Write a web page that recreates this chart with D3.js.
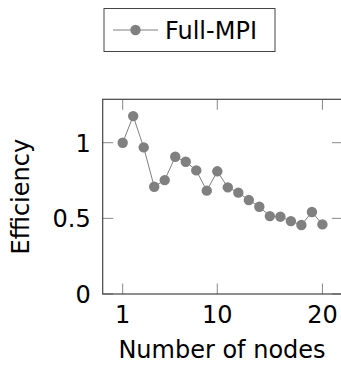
<!DOCTYPE html>
<html>
<head>
<meta charset="utf-8">
<script src="https://cdn.jsdelivr.net/npm/d3@7"></script>
<style>
  html, body { margin: 0; padding: 0; background: #fff; }
  svg { display: block; }
  text { font-family: "DejaVu Sans", sans-serif; fill: #000; }
</style>
</head>
<body>
<svg id="chart" width="341" height="366"></svg>
<script>
// Parallel efficiency of the Full-MPI run per node count
const nodes = [1, 2, 3, 4, 5, 6, 7, 8, 9, 10, 11, 12, 13, 14, 15, 16, 17, 18, 19, 20];
const efficiency = [1.00, 1.176, 0.969, 0.709, 0.753, 0.907, 0.874, 0.817, 0.683, 0.811,
                    0.705, 0.670, 0.621, 0.577, 0.515, 0.511, 0.482, 0.456, 0.542, 0.460];
const xTicks = [1, 10, 20];
const yTicks = [0, 0.5, 1];
const seriesName = "Full-MPI";

const svg = d3.select("#chart");
const plot = { left: 102.7, right: 342.4, top: 99.3, bottom: 294 };

const x = d3.scaleLinear().domain([-0.9, 21.9]).range([plot.left, plot.right]);
const y = d3.scaleLinear().domain([0, 1.287]).range([plot.bottom, plot.top]);

const axisColor = "#444";
const tickColor = "#888";
const seriesColor = "#808080";
const tickLen = 10.5;

// Ticks drawn inward on all four sides
const g = svg.append("g");
xTicks.forEach(t => {
  g.append("line").attr("x1", x(t)).attr("x2", x(t)).attr("y1", plot.bottom).attr("y2", plot.bottom - tickLen)
    .attr("stroke", tickColor).attr("stroke-width", 1);
  g.append("line").attr("x1", x(t)).attr("x2", x(t)).attr("y1", plot.top).attr("y2", plot.top + tickLen)
    .attr("stroke", tickColor).attr("stroke-width", 1);
  g.append("text").attr("x", x(t)).attr("y", plot.bottom + 29).attr("text-anchor", "middle")
    .attr("font-size", 24).text(d3.format("d")(t));
});
yTicks.forEach(t => {
  g.append("line").attr("x1", plot.left).attr("x2", plot.left + tickLen).attr("y1", y(t)).attr("y2", y(t))
    .attr("stroke", tickColor).attr("stroke-width", 1);
  g.append("line").attr("x1", plot.right).attr("x2", plot.right - tickLen).attr("y1", y(t)).attr("y2", y(t))
    .attr("stroke", tickColor).attr("stroke-width", 1);
  g.append("text").attr("x", plot.left - 12).attr("y", y(t) + 9).attr("text-anchor", "end")
    .attr("font-size", 24).text(t);
});

// Frame
svg.append("rect").attr("x", plot.left).attr("y", plot.top)
  .attr("width", plot.right - plot.left).attr("height", plot.bottom - plot.top)
  .attr("fill", "none").attr("stroke", axisColor).attr("stroke-width", 1.2);

// Series
const line = d3.line().x((d, i) => x(nodes[i])).y(d => y(d));
svg.append("path").datum(efficiency).attr("d", line)
  .attr("fill", "none").attr("stroke", seriesColor).attr("stroke-width", 1);
svg.selectAll("circle.pt").data(efficiency).join("circle").attr("class", "pt")
  .attr("cx", (d, i) => x(nodes[i])).attr("cy", d => y(d)).attr("r", 5.2)
  .attr("fill", seriesColor);

// Axis titles
svg.append("text").attr("x", 222).attr("y", 358)
  .attr("text-anchor", "middle").attr("font-size", 24).text("Number of nodes");
svg.append("text").attr("transform", `translate(29,${(plot.top + plot.bottom) / 2}) rotate(-90)`)
  .attr("text-anchor", "middle").attr("font-size", 24).text("Efficiency");

// Legend
const lg = svg.append("g");
lg.append("rect").attr("x", 104).attr("y", 8.5).attr("width", 171).attr("height", 43)
  .attr("fill", "#fff").attr("stroke", axisColor).attr("stroke-width", 1);
lg.append("line").attr("x1", 113).attr("x2", 158).attr("y1", 30).attr("y2", 30)
  .attr("stroke", seriesColor).attr("stroke-width", 1);
lg.append("circle").attr("cx", 135.5).attr("cy", 30).attr("r", 5.2).attr("fill", seriesColor);
lg.append("text").attr("x", 165).attr("y", 38.5).attr("font-size", 24).text(seriesName);
</script>
</body>
</html>
